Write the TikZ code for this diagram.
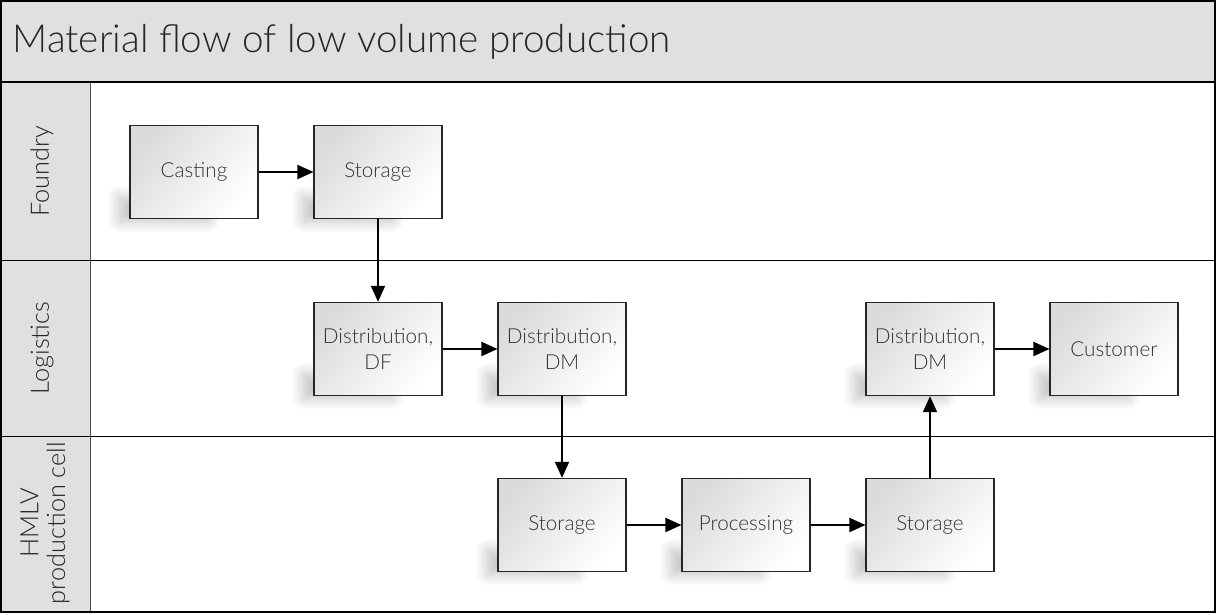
\documentclass[tikz,border=0pt]{standalone}
\usepackage{fontspec}
\setmainfont{Lato Light}
\usetikzlibrary{arrows.meta,shadows.blur,positioning,calc,backgrounds}

\tikzset{
  stepbox/.style={draw=black!85, line width=0.8pt, minimum width=96pt, minimum height=70pt,
    inner sep=2pt, align=center, font=\fontsize{15.5}{19}\selectfont, text=black!80,
    top color=black!14, bottom color=white, shading angle=50},
  boxshadow/.style={blur shadow={shadow xshift=0pt, shadow yshift=0pt,
      shadow blur radius=9pt, shadow blur steps=16, shadow opacity=25}},
  flow/.style={-{Triangle[length=12pt,width=10.5pt]}, line width=1.5pt},
  lanelabel/.style={rotate=90, align=center, font=\fontsize{19}{20}\selectfont, text=black!85},
}

\begin{document}
\begin{tikzpicture}[x=0.75pt,y=0.75pt,yscale=-1,xscale=1]
\useasboundingbox (0,0) rectangle (1217,614);

% title band and lane headers
\fill[black!12] (0,0) rectangle (1215,82);
\fill[black!12] (0,82) rectangle (90,612);
\draw[line width=0.6pt] (0,260) -- (1215,260);
\draw[line width=0.6pt] (0,436) -- (1215,436);
\draw[line width=0.6pt, black!70] (90,82) -- (90,612);
\draw[line width=1.5pt] (0,82) -- (1215,82);
\draw[line width=1.5pt] (1,1) rectangle (1215,612);

\node[anchor=west, font=\fontsize{29}{32}\selectfont, text=black!85] (title) at (8,42) {Material flow of low volume production};

\node[lanelabel] (foundry) at (42,171) {Foundry};
\node[lanelabel] (logistics) at (42,348) {Logistics};
\node[lanelabel] (hmlv) at (45,523) {HMLV\\production cell};

% process steps
\node[stepbox] (casting) at (194,172) {Casting};
\node[stepbox] (storageF) at (378,172) {Storage};
\node[stepbox] (distDF) at (378,349) {Distribution,\\DF};
\node[stepbox] (distDM) at (562,349) {Distribution,\\DM};
\node[stepbox] (storageA) at (562,525) {Storage};
\node[stepbox] (processing) at (746,525) {Processing};
\node[stepbox] (storageB) at (930,525) {Storage};
\node[stepbox] (distDMb) at (930,349) {Distribution,\\DM};
\node[stepbox] (customer) at (1114,349) {Customer};

% soft shadows at the lower left
\begin{scope}[on background layer]
\foreach \n in {casting,storageF,distDF,distDM,storageA,processing,storageB,distDMb,customer}
  \path[boxshadow] ($(\n.south west)+(-10,2)$) rectangle ($(\n.south east)+(-50,-22)$);
\end{scope}

% flow
\draw[flow] (casting) -- (storageF);
\draw[flow] (storageF) -- (distDF);
\draw[flow] (distDF) -- (distDM);
\draw[flow] (distDM) -- (storageA);
\draw[flow] (storageA) -- (processing);
\draw[flow] (processing) -- (storageB);
\draw[flow] (storageB) -- (distDMb);
\draw[flow] (distDMb) -- (customer);

\end{tikzpicture}
\end{document}
